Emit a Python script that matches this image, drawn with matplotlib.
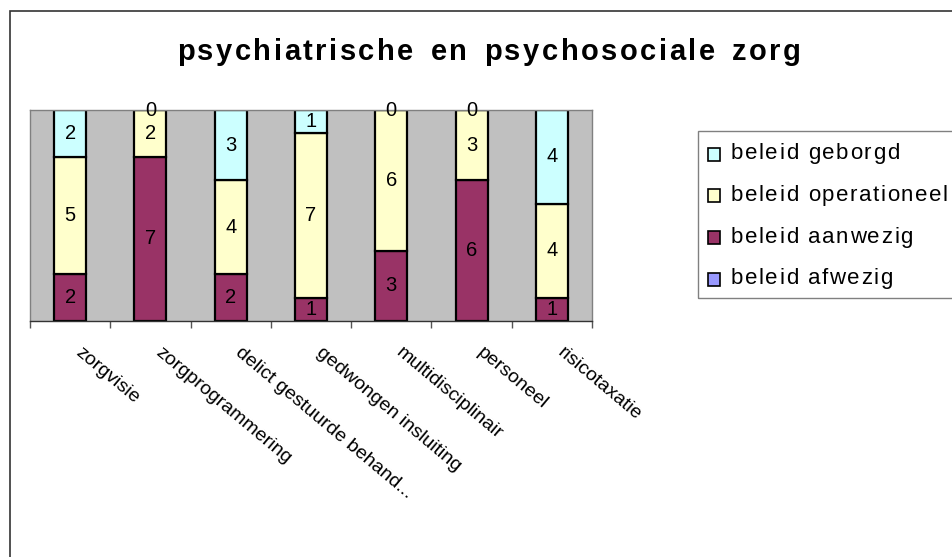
import matplotlib

matplotlib.use("Agg")
import matplotlib.pyplot as plt
import numpy as np
from matplotlib.font_manager import FontProperties, findfont, get_font
from matplotlib.patches import Rectangle

plt.rcParams['font.family'] = ['Liberation Sans', 'DejaVu Sans']

categories = ["zorgvisie", "zorgprogrammering", "delict gestuurde behand...",
              "gedwongen insluiting", "multidisciplinair", "personeel", "risicotaxatie"]
afwezig = [0, 0, 0, 0, 0, 0, 0]
aanwezig = [2, 7, 2, 1, 3, 6, 1]
operationeel = [5, 2, 4, 7, 6, 3, 4]
geborgd = [2, 0, 3, 1, 0, 0, 4]

series = [
    ("beleid afwezig", afwezig, "#9999FF"),
    ("beleid aanwezig", aanwezig, "#993366"),
    ("beleid operationeel", operationeel, "#FFFFCC"),
    ("beleid geborgd", geborgd, "#CCFFFF"),
]

W, H = 952, 557


def tracked_text(fig, x_px, y_px, s, track, size, weight="normal", ha="left", space_extra=0.0):
    """ draws text char by char with extra letter spacing (pixel coords, baseline) """
    font = get_font(findfont(FontProperties(family="Liberation Sans", weight=weight)))
    font.set_size(size, 100)
    adv = [font.load_char(ord(c)).linearHoriAdvance / 65536 + (space_extra if c == " " else 0)
           for c in s]
    total = sum(adv) + track * (len(s) - 1)
    x = x_px - total / 2 if ha == "center" else x_px
    for c, a in zip(s, adv):
        fig.text(x / W, 1 - y_px / H, c, ha="left", va="baseline", fontsize=size,
                 fontweight=weight, color="black")
        x += a + track


fig = plt.figure(figsize=(W / 100, H / 100), dpi=100)

# outer chart frame (runs past the right and bottom edge)
fig.patches.append(Rectangle((10 / W, -0.1), 1.2, 1.1 - 11 / H, transform=fig.transFigure,
                             fill=False, edgecolor="#333333", linewidth=1.2))

ax = fig.add_axes([30 / W, 1 - 321 / H, (592 - 30) / W, (321 - 110) / H])
ax.set_facecolor("#C0C0C0")

x = np.arange(len(categories))
bottom = np.zeros(len(categories))
for name, vals, color in series:
    vals = np.array(vals, dtype=float)
    ax.bar(x, vals, 0.4, bottom=bottom, color=color, edgecolor="black", linewidth=1.6)
    if name != "beleid afwezig":
        for xi, b, v in zip(x, bottom, vals):
            ax.text(xi, b + v / 2, f"{int(v)}", ha="center", va="center",
                    fontsize=14.5, color="black", clip_on=False)
    bottom += vals

ax.set_xlim(-0.5, len(categories) - 0.5)
ax.set_ylim(0, 9)
ax.set_yticks([])
ax.set_xticks(np.arange(len(categories) + 1) - 0.5)
ax.set_xticklabels([])
ax.tick_params(axis="x", direction="out", length=5, color="#555555", width=1)
for s in ["left", "right", "top"]:
    ax.spines[s].set_color("#808080")
    ax.spines[s].set_linewidth(1)
ax.spines["bottom"].set_color("#333333")
ax.spines["bottom"].set_linewidth(1)

for xi, label in zip(x, categories):
    ax.text(xi + 0.09, -1.25, label, rotation=-40, rotation_mode="anchor",
            ha="left", va="center", fontsize=14)

tracked_text(fig, 489, 60, "psychiatrische en psychosociale zorg", 2.5, 21,
             weight="bold", ha="center", space_extra=4)

# legend box, drawn by hand so the text can get the same letter spacing
fig.patches.append(Rectangle((698 / W, 1 - 298 / H), 0.5, (298 - 131) / H,
                             transform=fig.transFigure, fill=False,
                             edgecolor="#808080", linewidth=1))
for i, (name, vals, color) in enumerate(reversed(series)):
    yc = 154 + 41.8 * i
    fig.patches.append(Rectangle((708 / W, 1 - (yc + 6.5) / H), 12 / W, 13 / H,
                                 transform=fig.transFigure, facecolor=color,
                                 edgecolor="black", linewidth=1.2))
    tracked_text(fig, 731, yc + 5, name, 1.6, 16)

fig.savefig("out.png", dpi=100)
